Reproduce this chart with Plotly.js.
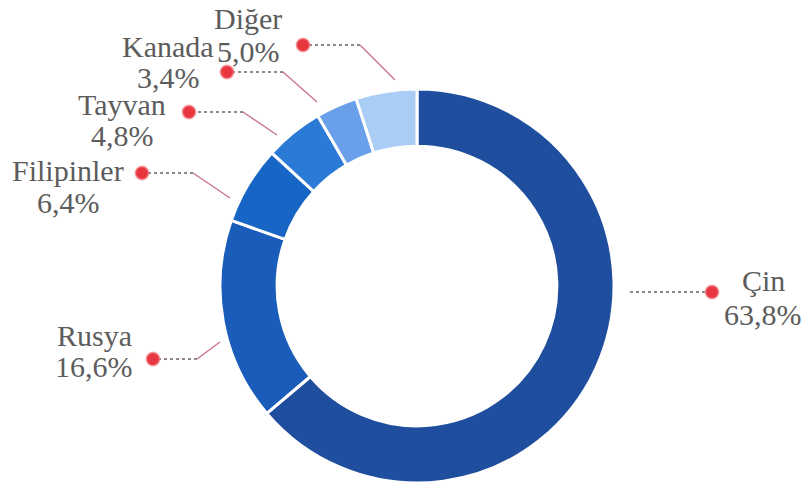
<!DOCTYPE html>
<html>
<head>
<meta charset="utf-8">
<script src="https://cdn.plot.ly/plotly-3.0.1.min.js"></script>
<style>html,body{margin:0;padding:0;background:#fff;}#chart{width:805px;height:492px;}</style>
</head>
<body>
<div id="chart"></div>
<script>
// ---- data ----
const countries = ["Çin", "Rusya", "Filipinler", "Tayvan", "Kanada", "Diğer"];
const shares = [63.8, 16.6, 6.4, 4.8, 3.4, 5.0];
const sliceColors = ["#1e4e9d", "#1a5cba", "#1766c6", "#2b7ad6", "#6aa0ea", "#a9cdf5"];

// ---- label layout (pixel positions, layout only) ----
// [lineStartX, lineStartY, elbowX, elbowY, dotX, dotY, textX, nameY, pctY]
const labelPos = [
  [630, 292, 630, 292, 712, 292, 763, 280, 314],
  [220, 342, 197, 359, 153, 359, 94, 335, 366],
  [230, 198, 193, 173, 142, 173, 68, 170, 202],
  [277, 135, 243, 112, 189, 112, 122, 104, 135],
  [317, 102, 283, 72, 227, 72, 168, 46, 77],
  [395, 80, 360, 45, 303, 45, 248, 18, 51]
];

const W = 805, H = 492;
const cx = 417, cy = 286, R = 197;
const labelFont = { family: "Liberation Serif", size: 30, color: "#5c5c5c" };

const traces = [{
  type: "pie",
  values: shares,
  labels: countries,
  sort: false,
  direction: "clockwise",
  rotation: 0,
  hole: 0.71,
  marker: { colors: sliceColors, line: { color: "#ffffff", width: 3 } },
  textinfo: "none",
  hoverinfo: "label+percent",
  showlegend: false,
  domain: { x: [(cx - R) / W, (cx + R) / W], y: [(H - cy - R) / H, (H - cy + R) / H] }
}];

const annotations = [];
countries.forEach((c, i) => {
  const p = labelPos[i];
  traces.push({
    type: "scatter", mode: "lines", x: [p[0], p[2]], y: [p[1], p[3]],
    line: { color: "#c8788c", width: 1.5 }, hoverinfo: "skip", showlegend: false
  });
  traces.push({
    type: "scatter", mode: "lines", x: [p[2], p[4]], y: [p[3], p[5]],
    line: { color: "#6f5f66", width: 1.5, dash: "dot" }, hoverinfo: "skip", showlegend: false
  });
  annotations.push({
    x: p[6], y: p[7], xref: "x", yref: "y", text: c, showarrow: false,
    xanchor: "center", yanchor: "middle", font: labelFont
  });
  annotations.push({
    x: p[6], y: p[8], xref: "x", yref: "y",
    text: shares[i].toFixed(1).replace(".", ",") + "%", showarrow: false,
    xanchor: "center", yanchor: "middle", font: labelFont
  });
});
traces.push({
  type: "scatter", mode: "markers",
  x: labelPos.map(p => p[4]), y: labelPos.map(p => p[5]),
  marker: { color: "#e8363f", size: 13, line: { color: "rgba(240,120,125,0.6)", width: 2 } },
  hoverinfo: "skip", showlegend: false
});

const layout = {
  width: W, height: H,
  margin: { l: 0, r: 0, t: 0, b: 0 },
  paper_bgcolor: "#ffffff", plot_bgcolor: "rgba(0,0,0,0)",
  xaxis: { range: [0, W], visible: false, fixedrange: true },
  yaxis: { range: [H, 0], visible: false, fixedrange: true },
  annotations: annotations,
  showlegend: false
};

Plotly.newPlot("chart", traces, layout, { displayModeBar: false, staticPlot: true });
</script>
</body>
</html>
